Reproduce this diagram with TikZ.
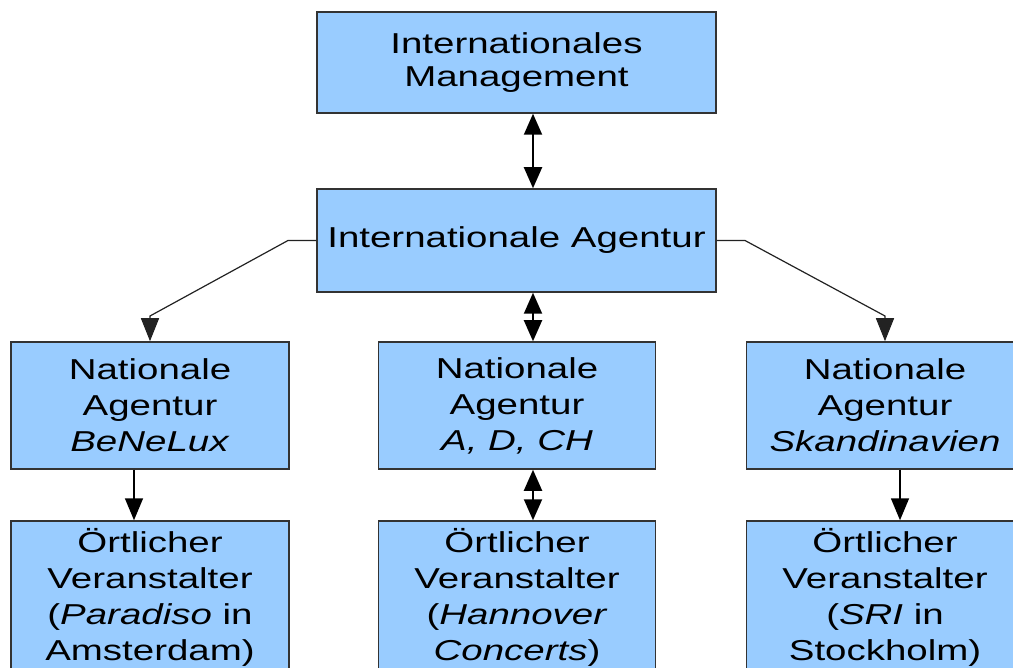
\documentclass[tikz,border=0pt]{standalone}
\usepackage{fontspec}
\setmainfont{Liberation Sans}[FakeStretch=1.335]
\usetikzlibrary{arrows.meta}
\definecolor{boxblue}{HTML}{99CCFF}
\definecolor{edgegray}{HTML}{333333}
\definecolor{linegray}{HTML}{222222}
\begin{document}
\begin{tikzpicture}[x=1pt,y=-1pt,
  orgbox/.style={draw=edgegray, line width=1.5pt, fill=boxblue, align=center, inner sep=0pt,
    font=\fontsize{28.8}{36}\selectfont},
  widebox/.style={orgbox, minimum width=399pt},
  narrowbox/.style={orgbox, minimum width=277pt},
  dblarrow/.style={draw=black, line width=2pt,
    {Triangle[length=21pt,width=18pt]}-{Triangle[length=21pt,width=18pt]}},
  downarrow/.style={draw=black, line width=1.6pt, -{Triangle[length=22pt,width=18pt]}},
  branch/.style={draw=linegray, line width=1.2pt, -{Triangle[length=23pt,width=18pt]}}
]
\useasboundingbox (0,0) rectangle (1013,668);
\clip (0,0) rectangle (1013,668);

\node[widebox, minimum height=101pt, font=\fontsize{28.8}{33.5}\selectfont] (IM) at (516.5,62.5) {Internationales\\Management};
\node[widebox, minimum height=103pt] (IA) at (516.5,240.5) {Internationale Agentur};

\node[narrowbox, minimum height=127pt, minimum width=278pt] (NL) at (150,405.5) {Nationale\\Agentur\\\textit{BeNeLux}};
\node[narrowbox, minimum height=127pt] (NC) at (517,405.5) {Nationale\\Agentur\\\textit{A, D, CH}};
\node[narrowbox, minimum height=127pt] (NR) at (885,405.5) {Nationale\\Agentur\\\textit{Skandinavien}};

\node[narrowbox, minimum height=152pt, minimum width=278pt] (BL) at (150,597) {Örtlicher\\Veranstalter\\(\textit{Paradiso} in\\Amsterdam)};
\node[narrowbox, minimum height=152pt] (BC) at (517,597) {Örtlicher\\Veranstalter\\(\textit{Hannover}\\\textit{Concerts})};
\node[narrowbox, minimum height=152pt] (BR) at (885,597) {Örtlicher\\Veranstalter\\(\textit{SRI} in\\Stockholm)};

\draw[dblarrow] ([xshift=16.5pt]IM.south) -- ([xshift=16.5pt]IA.north);
\draw[dblarrow] ([xshift=16.5pt]IA.south) -- ([xshift=16pt]NC.north);
\draw[dblarrow] ([xshift=16pt]NC.south) -- ([xshift=16pt]BC.north);

\coordinate (L1) at (288,240.5);
\coordinate (L2) at (150,316);
\coordinate (R1) at (745,240.5);
\coordinate (R2) at (885,316);
\draw[branch] (IA.west) -- (L1) -- (L2) -- (NL.north);
\draw[branch] (IA.east) -- (R1) -- (R2) -- (NR.north);

\draw[downarrow] ([xshift=-16pt]NL.south) -- ([xshift=-16pt]BL.north);
\draw[downarrow] ([xshift=15pt]NR.south) -- ([xshift=15pt]BR.north);
\end{tikzpicture}
\end{document}
